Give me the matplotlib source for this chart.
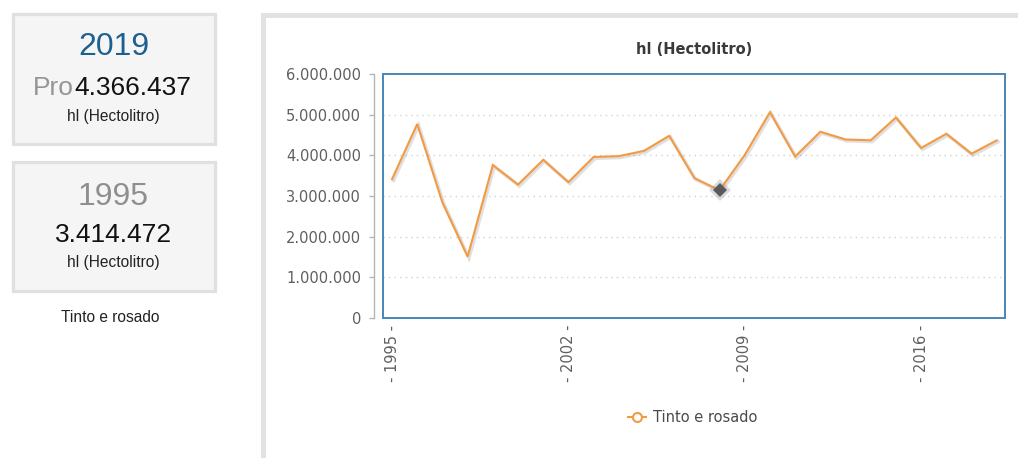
import matplotlib
matplotlib.use("Agg")
import matplotlib.pyplot as plt
from matplotlib.patches import Rectangle
from matplotlib.lines import Line2D
from matplotlib.ticker import FuncFormatter, FixedLocator
import matplotlib.patheffects as pe

# ---- data -------------------------------------------------------------
years = list(range(1995, 2020))
production_hl = [3414472, 4770000, 2840000, 1510000, 3760000, 3280000,
                 3890000, 3340000, 3960000, 3980000, 4110000, 4480000,
                 3440000, 3140000, 4010000, 5060000, 3970000, 4580000,
                 4390000, 4370000, 4930000, 4180000, 4530000, 4040000,
                 4366437]
series_name = "Tinto e rosado"
unit_label = "hl (Hectolitro)"
highlight_year = 2008
x_tick_years = [1995, 2002, 2009, 2016]
y_ticks = [0, 1000000, 2000000, 3000000, 4000000, 5000000, 6000000]

first_year, last_year = years[0], years[-1]
first_value, last_value = production_hl[0], production_hl[-1]

# ---- figure -----------------------------------------------------------
W, H = 1018, 458
fig = plt.figure(figsize=(W / 100, H / 100), dpi=100)
fig.patch.set_facecolor("white")


def fx(px):
    return px / W


def fy(py):
    return 1 - py / H


def dots(v):
    return f"{int(round(v)):,}".replace(",", ".")


card_font = ["Liberation Sans", "DejaVu Sans"]

# summary cards on the left
for top, bottom in [(13, 145), (160, 292)]:
    fig.patches.append(Rectangle((fx(12.5), fy(bottom - 1.5)), fx(202), (bottom - top - 3) / H,
                                 transform=fig.transFigure, facecolor="#f5f5f5",
                                 edgecolor="#e0e0e0", linewidth=2.3, zorder=-2))

cx = 113.5
fig.text(fx(cx), fy(47), str(last_year), ha="center", va="center",
         fontsize=23, color="#1d5f91", family=card_font)
fig.text(fx(74), fy(88), "Pro", ha="right", va="center",
         fontsize=19, color="#959595", family=card_font)
fig.text(fx(74), fy(88), dots(last_value), ha="left", va="center",
         fontsize=19, color="#111111", family=card_font)
fig.text(fx(cx), fy(117), unit_label, ha="center", va="center",
         fontsize=11.2, color="#222222", family=card_font)

fig.text(fx(cx), fy(197), str(first_year), ha="center", va="center",
         fontsize=23, color="#8f8f8f", family=card_font)
fig.text(fx(cx), fy(235), dots(first_value), ha="center", va="center",
         fontsize=19, color="#111111", family=card_font)
fig.text(fx(cx), fy(263), unit_label, ha="center", va="center",
         fontsize=11.2, color="#222222", family=card_font)
fig.text(fx(110), fy(318), series_name, ha="center", va="center",
         fontsize=11.2, color="#222222", family=card_font)

# chart panel frame (left and top edges visible)
fig.patches.append(Rectangle((fx(262.5), fy(600)), fx(900), 585 / H,
                             transform=fig.transFigure, facecolor="white",
                             edgecolor="#e2e2e2", linewidth=3.6, zorder=-2))

# ---- chart ------------------------------------------------------------
left, right, top, bottom = 383, 1005, 74, 318
ax = fig.add_axes([fx(left), fy(bottom), fx(right - left), (bottom - top) / H])
ax.set_zorder(2)
ax.set_facecolor("white")

ax.plot(years, production_hl, color="#f39a42", linewidth=1.5, zorder=3,
        solid_joinstyle="miter",
        path_effects=[pe.SimpleLineShadow(offset=(1, -1), shadow_color="#000000",
                                          alpha=0.12, linewidth=2.5),
                      pe.Normal()])

hi = years.index(highlight_year)
ax.plot([years[hi]], [production_hl[hi]], marker="D", markersize=11,
        color="#9a9a9a", alpha=0.35, linestyle="none", zorder=4,
        markeredgewidth=0)
ax.plot([years[hi]], [production_hl[hi]], marker="D", markersize=7.5,
        color="#5a5a5a", linestyle="none", zorder=5, markeredgewidth=0)

ax.set_xlim(1994.64, 2019.33)
ax.set_ylim(0, 6000000)

# blue plot frame
ax.add_patch(Rectangle((0, 0), 1, 1, transform=ax.transAxes, fill=False,
                       edgecolor="#4a85b5", linewidth=1.4, zorder=6, clip_on=False))

for s in ["top", "right", "bottom"]:
    ax.spines[s].set_visible(False)
ax.spines["left"].set_position(("outward", 6.2))
ax.spines["left"].set_color("#b5b5b5")
ax.spines["left"].set_linewidth(1.0)
ax.spines["left"].set_bounds(0, 6000000)

ax.yaxis.set_major_locator(FixedLocator(y_ticks))
ax.yaxis.set_major_formatter(FuncFormatter(lambda v, p: dots(v)))
ax.tick_params(axis="y", direction="out", length=3.6, width=1.0, color="#b5b5b5",
               pad=6.0, labelsize=10.5, labelcolor="#5f5f5f")

ax.set_xticks(x_tick_years)
ax.set_xticklabels([f"- {y} -" for y in x_tick_years], rotation=90, va="top", ha="center")
ax.tick_params(axis="x", length=0, pad=5, labelsize=10.5, labelcolor="#5f5f5f")

for g in y_ticks[1:-1]:
    ax.axhline(g, color="#d2d2d2", linewidth=1.0, linestyle=(0, (1, 3)), zorder=1)

fig.text(fx((left + right) / 2), fy(49), unit_label, ha="center", va="center",
         fontsize=10.5, fontweight="bold", color="#3a3a3a")

handle = Line2D([], [], color="#f39a42", linewidth=1.5, marker="o", markersize=6.5,
                markerfacecolor="white", markeredgecolor="#f39a42", markeredgewidth=1.5)
leg = ax.legend([handle], [series_name], loc="center",
                bbox_to_anchor=(fx(693), fy(418)), bbox_transform=fig.transFigure,
                frameon=False, fontsize=10.5, handlelength=1.2, handletextpad=0.5)
for t in leg.get_texts():
    t.set_color("#4a4a4a")

fig.savefig("out.png", dpi=100, facecolor="white")
